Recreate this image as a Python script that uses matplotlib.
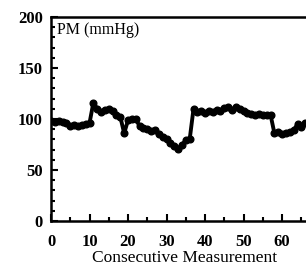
import matplotlib
matplotlib.use("Agg")
import matplotlib.pyplot as plt
from matplotlib.ticker import MultipleLocator

plt.rcParams['font.family'] = ['Liberation Serif', 'DejaVu Serif']

measurement = list(range(0, 67))
pm = [98, 97, 98, 97, 96, 93, 94, 93, 94, 95,
      96, 116, 110, 107, 109, 110, 108, 104, 102, 86,
      99, 100, 100, 93, 91, 90, 88, 89, 85, 82,
      80, 76, 74, 71, 75, 79, 80, 110, 107, 108,
      106, 108, 107, 109, 108, 111, 112, 109, 112, 110,
      108, 106, 105, 104, 105, 104, 104, 104, 86, 87,
      85, 86, 87, 89, 95, 92, 96]

xticks = [0, 10, 20, 30, 40, 50, 60]
yticks = [0, 50, 100, 150, 200]

fig = plt.figure(figsize=(3.06, 2.68), dpi=100)
ax = fig.add_axes([51/306, 1-221/268, 1-51/306, (221-17)/268])
ax.plot(measurement, pm, color='black', lw=2.8, marker='o', ms=4.8,
        clip_on=True)
ax.set_xlim(0, 66.2)
ax.set_ylim(0, 200)
ax.set_xticks(xticks)
ax.set_yticks(yticks)
ax.xaxis.set_minor_locator(MultipleLocator(5))
ax.yaxis.set_minor_locator(MultipleLocator(10))
ax.tick_params(which='both', direction='in', width=1.5, labelsize=12)
ax.tick_params(which='major', length=5)
ax.tick_params(which='minor', length=3)
ax.tick_params(axis='x', which='major', pad=9)
ax.tick_params(axis='y', which='major', pad=6)
for lbl in ax.get_xticklabels() + ax.get_yticklabels():
    lbl.set_fontweight('bold')
ax.spines['right'].set_visible(False)
for s in ['left', 'bottom', 'top']:
    ax.spines[s].set_linewidth(1.8)
ax.text(6/255, 0.975, 'PM (mmHg)', transform=ax.transAxes, ha='left', va='top',
        fontsize=11.5)
ax.set_xlabel('Consecutive Measurement', fontsize=12.5, va='center')
ax.xaxis.set_label_coords((185-51)/(306-51), -(258-221)/204)
fig.savefig('out.png', dpi=100)
